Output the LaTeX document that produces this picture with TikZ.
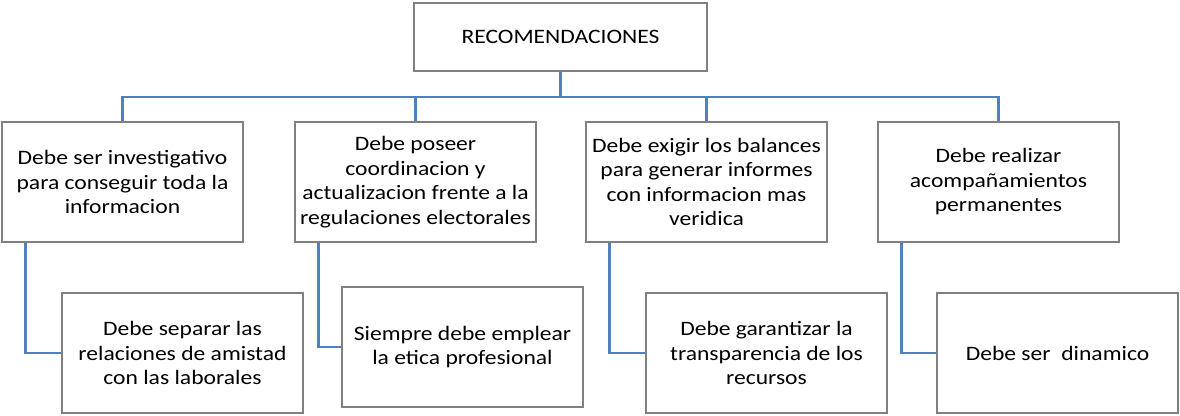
\documentclass[tikz,border=0pt]{standalone}
\usepackage{fontspec}
\setmainfont{Carlito}[FakeStretch=1.15]
\usepackage{tikz}
\usetikzlibrary{positioning}

\definecolor{boxgray}{RGB}{128,128,128}
\definecolor{linkblue}{RGB}{79,129,189}

\tikzset{
  box/.style={draw=boxgray, line width=1.2pt, fill=white, align=center,
    minimum width=241pt, minimum height=120pt, inner sep=2pt,
    font=\fontsize{20.5}{24.5}\selectfont},
  topbox/.style={draw=boxgray, line width=1.2pt, fill=white, align=center,
    minimum width=293pt, minimum height=68pt,
    font=\fontsize{20.5}{25}\selectfont},
  link/.style={draw=linkblue, line width=2.2pt}
}

\begin{document}
\begin{tikzpicture}[x=1pt,y=-1pt]

\useasboundingbox (0,0) rectangle (1180,415);

\node[topbox] (rec) at (560.5,37) {RECOMENDACIONES};

\node[box] (inv) at (122.5,182) {Debe ser investigativo\\para conseguir toda la\\informacion};
\node[box] (coord) at (415.5,182) {Debe poseer\\coordinacion y\\actualizacion frente a la\\regulaciones electorales};
\node[box] (bal) at (706.5,182) {Debe exigir los balances\\para generar informes\\con informacion mas\\veridica};
\node[box] (acomp) at (998.5,182) {Debe realizar\\acompañamientos\\permanentes};

\node[box] (sep) at (182.5,353) {Debe separar las\\relaciones de amistad\\con las laborales};
\node[box] (etica) at (462.5,347) {Siempre debe emplear\\la etica profesional};
\node[box] (transp) at (766.5,353) {Debe garantizar la\\transparencia de los\\recursos};
\node[box] (dinam) at (1057.5,353) {Debe ser~ dinamico};

% bus
\coordinate (bus) at (0,97);
\draw[link] (inv.north) |- (bus -| acomp.north) -- (acomp.north);
\draw[link] (rec.south) -- (rec.south |- bus);
\draw[link] (coord.north) -- (coord.north |- bus);
\draw[link] (bal.north) -- (bal.north |- bus);

% second level
\draw[link] ([xshift=24pt]inv.south west) |- (sep.west);
\draw[link] ([xshift=24pt]coord.south west) |- (etica.west);
\draw[link] ([xshift=24pt]bal.south west) |- (transp.west);
\draw[link] ([xshift=24pt]acomp.south west) |- (dinam.west);

\end{tikzpicture}
\end{document}
